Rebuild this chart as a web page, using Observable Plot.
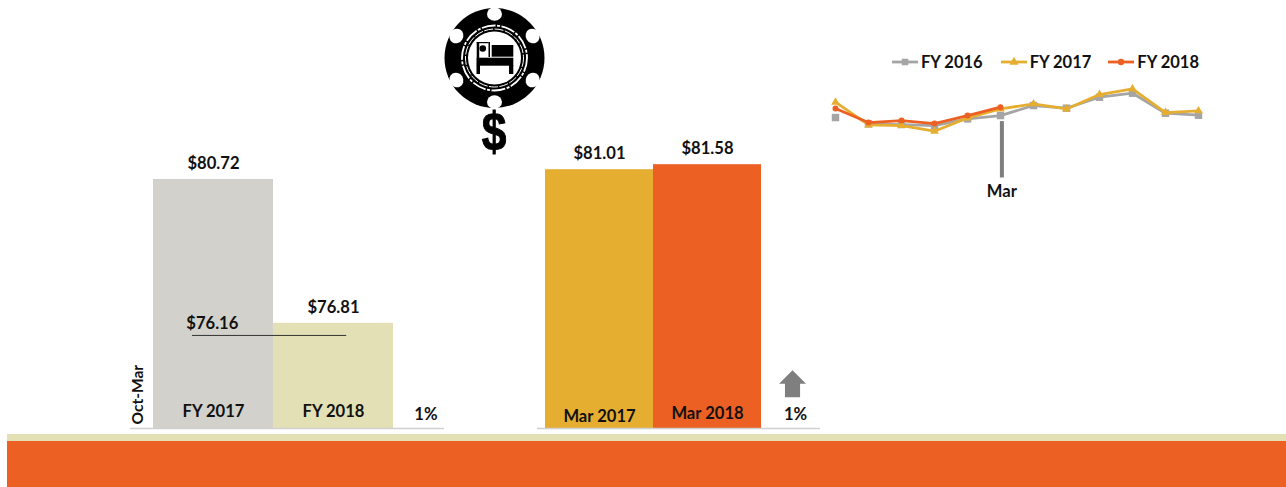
<!DOCTYPE html>
<html>
<head>
<meta charset="utf-8">
<script src="https://cdn.jsdelivr.net/npm/d3@7"></script>
<script src="https://cdn.jsdelivr.net/npm/@observablehq/plot@0.6"></script>
<style>
  html, body { margin: 0; padding: 0; background: #fff; }
  #page { position: relative; width: 1286px; height: 487px; overflow: hidden; font-family: Lato, "Open Sans", sans-serif; color: #111; }
  #page > * { position: absolute; }
  #page svg { overflow: visible; }
  .stripe { left: 7px; right: 0; top: 434px; height: 7px; background: #E3E0B5; }
  .band { left: 7px; right: 0; top: 441px; height: 46px; background: #EC6024; }
  #legend { left: 892px; top: 52px; height: 20px; display: flex; align-items: center; font-weight: 700; font-size: 16.5px; white-space: nowrap; }
  #legend span.item { display: flex; align-items: center; }
  #legend svg { display: block; margin-right: 3px; }
</style>
</head>
<body>
<div id="page">
  <div class="stripe"></div>
  <div class="band"></div>
  <svg id="chip" style="left:440px;top:0" width="110" height="165" viewBox="0 0 110 165"></svg>
  <div id="legend"></div>
</div>
<script>
// Six-month comparison
const periodLabels = ["FY 2017", "FY 2018"];
const periodValues = [80.72, 76.81];
const periodColors = ["#D2D1CC", "#E3E0B5"];
const priorLabel = "$76.16";
const priorLevel = 76.48;
const periodChange = "1%";

// March comparison
const marchLabels = ["Mar 2017", "Mar 2018"];
const marchValues = [81.01, 81.58];
const marchColors = ["#E5AE30", "#EC6024"];
const marchChange = "1%";

// Monthly trend
const months = ["Oct","Nov","Dec","Jan","Feb","Mar","Apr","May","Jun","Jul","Aug","Sep"];
const fy2016 = [78.14,76.02,75.80,75.47,77.69,78.80,82.14,81.25,84.91,86.25,79.58,78.91];
const fy2017 = [83.25,75.69,75.47,73.58,78.02,81.01,82.69,81.01,85.80,87.69,79.80,80.36];
const fy2018 = [81.14,76.47,77.14,76.14,78.80,81.58];
const seriesColors = {"FY 2016": "#A5A5A5", "FY 2017": "#E5AE30", "FY 2018": "#EC6024"};

const font = "Lato, 'Open Sans', sans-serif";
const ink = "#111";
const page = document.getElementById("page");
const place = (el, left, top) => {
  el.style.left = left + "px";
  el.style.top = top + "px";
  page.appendChild(el);
};
const money = v => "$" + v.toFixed(2);
const labelStyle = {fontFamily: font, fontWeight: 700, fontSize: 16.6, fill: ink};

// ---------- left bars ----------
const periodRows = periodLabels.map((label, i) => ({label, value: periodValues[i], color: periodColors[i], a: i, b: i + 1, c: i + 0.5}));
const leftBase = 73.95;
place(Plot.plot({
  width: 314, height: 290, margin: 0,
  x: {domain: [0, 2.425], range: [23, 314], axis: null},
  y: {domain: [leftBase, 81.78], range: [288, 0], axis: null},
  marks: [
    Plot.rect(periodRows, {x1: "a", x2: "b", y1: () => leftBase, y2: "value", fill: "color"}),
    Plot.ruleY([leftBase], {stroke: "#D0D0D0", strokeWidth: 1.5}),
    Plot.ruleY([priorLevel], {x1: 0.325, x2: 1.61, stroke: "#333", strokeWidth: 1}),
    Plot.text(periodRows, {x: "c", y: "value", text: d => money(d.value), dy: -16, ...labelStyle}),
    Plot.text(periodRows, {x: "c", y: () => 74.41, text: "label", ...labelStyle}),
    Plot.text([priorLabel], {x: () => 0.49, y: () => 76.81, text: d => d, ...labelStyle}),
    Plot.text([periodChange], {x: () => 2.27, y: () => 74.33, text: d => d, ...labelStyle}),
    Plot.text(["Oct-Mar"], {x: () => -0.13, y: () => 74.06, text: d => d, rotate: -90, textAnchor: "start", ...labelStyle, fontSize: 15.5})
  ]
}), 130, 140);

// ---------- middle bars ----------
const marchRows = marchLabels.map((label, i) => ({label, value: marchValues[i], color: marchColors[i], a: i, b: i + 1, c: i + 0.5, ly: [52.87, 53.15][i]}));
const midBase = 51.5;
const upArrow = {
  draw(ctx, size) {
    const s = Math.sqrt(size) / 2;
    ctx.moveTo(0, -s);
    ctx.lineTo(s, 0);
    ctx.lineTo(s * 0.56, 0);
    ctx.lineTo(s * 0.56, s);
    ctx.lineTo(-s * 0.56, s);
    ctx.lineTo(-s * 0.56, 0);
    ctx.lineTo(-s, 0);
    ctx.closePath();
  }
};
place(Plot.plot({
  width: 283, height: 290, margin: 0,
  x: {domain: [-0.074, 2.546], range: [0, 283], axis: null},
  y: {domain: [midBase, 51.5 + 288 / 8.77], range: [288, 0], axis: null},
  marks: [
    Plot.rect(marchRows, {x1: "a", x2: "b", y1: () => midBase, y2: "value", fill: "color"}),
    Plot.ruleY([midBase], {stroke: "#D0D0D0", strokeWidth: 1.5}),
    Plot.text(marchRows, {x: "c", y: "value", text: d => money(d.value), dy: -16, ...labelStyle}),
    Plot.text(marchRows, {x: "c", y: "ly", text: "label", ...labelStyle}),
    Plot.dot([marchChange], {x: () => 2.287, y: () => 56.6, r: 15.2, symbol: upArrow, fill: "#7F7F7F", stroke: "none"}),
    Plot.text([marchChange], {x: () => 2.315, y: () => 53.05, text: d => d, ...labelStyle})
  ]
}), 537, 140);

// ---------- trend ----------
const rows = (name, vals) => vals.map((v, i) => ({month: months[i], value: v, name}));
const r16 = rows("FY 2016", fy2016), r17 = rows("FY 2017", fy2017), r18 = rows("FY 2018", fy2018);
const lineOpts = name => ({x: "month", y: "value", stroke: seriesColors[name], strokeWidth: 2.8, curve: "linear"});
const dotOpts = (name, symbol, r) => ({x: "month", y: "value", fill: seriesColors[name], stroke: "none", symbol, r});
place(Plot.plot({
  width: 400, height: 125, margin: 0,
  x: {type: "point", domain: months, range: [13.3, 380.7], padding: 0, axis: null},
  y: {domain: [50.5, 90.48], range: [120, 0], axis: null},
  marks: [
    Plot.line(r16.slice(1), lineOpts("FY 2016")),
    Plot.dot(r16, dotOpts("FY 2016", "square", 4.2)),
    Plot.line(r17, lineOpts("FY 2017")),
    Plot.dot(r17, dotOpts("FY 2017", "triangle", 3.2)),
    Plot.line(r18, lineOpts("FY 2018")),
    Plot.dot(r18, dotOpts("FY 2018", "circle", 3)),
    Plot.ruleX(["Mar"], {y1: 76.8, y2: 58, stroke: "#7F7F7F", strokeWidth: 4, dx: 1.4}),
    Plot.text(["Mar"], {x: d => d, y: () => 53.5, text: d => d, dx: 1.4, ...labelStyle})
  ]
}), 820, 80);

// ---------- legend ----------
const legend = d3.select("#legend");
const symbols = {"FY 2016": d3.symbolSquare, "FY 2017": d3.symbolTriangle, "FY 2018": d3.symbolCircle};
const sizes = {"FY 2016": 42, "FY 2017": 36, "FY 2018": 32};
const gaps = {"FY 2016": 18, "FY 2017": 17, "FY 2018": 0};
Object.keys(seriesColors).forEach(name => {
  const item = legend.append("span").attr("class", "item").style("margin-right", gaps[name] + "px");
  const s = item.append("svg").attr("width", 26).attr("height", 12);
  s.append("line").attr("x1", 0).attr("x2", 26).attr("y1", 6).attr("y2", 6)
    .attr("stroke", seriesColors[name]).attr("stroke-width", 2.8);
  s.append("path").attr("transform", "translate(13,6)")
    .attr("d", d3.symbol(symbols[name], sizes[name])()).attr("fill", seriesColors[name]);
  item.append("span").text(name);
});

// ---------- chip icon ----------
const chip = d3.select("#chip");
const cx = 54.5, cy = 58;
chip.append("circle").attr("cx", cx).attr("cy", cy).attr("r", 50).attr("fill", "#000");
d3.range(6).forEach(i => {
  const a = i * Math.PI / 3;
  chip.append("ellipse")
    .attr("transform", `translate(${cx + 44 * Math.sin(a)},${cy - 44 * Math.cos(a)}) rotate(${i * 60})`)
    .attr("rx", 7.5).attr("ry", 6.8).attr("fill", "#fff");
});
chip.append("circle").attr("cx", cx).attr("cy", cy).attr("r", 32.5).attr("fill", "none")
  .attr("stroke", "#fff").attr("stroke-width", 1.8).attr("stroke-dasharray", "14 1.5 3 1.5");
chip.append("circle").attr("cx", cx).attr("cy", cy).attr("r", 29).attr("fill", "none")
  .attr("stroke", "#fff").attr("stroke-width", 1).attr("stroke-dasharray", "9 1.5");
chip.append("circle").attr("cx", cx).attr("cy", cy).attr("r", 26.5).attr("fill", "#fff");
[[36.7,42,2.5,32],[36.7,42,12,1.2],[48.5,42,1.5,15],[51.7,45,21.6,11.7],[36.7,57.7,36.6,8],[36.7,65,3.3,9],[69,65,4.3,9]]
  .forEach(([x, y, width, height]) => {
    chip.append("rect").attr("x", x).attr("y", y).attr("width", width).attr("height", height).attr("fill", "#000");
  });
chip.append("circle").attr("cx", 42.8).attr("cy", 48.5).attr("r", 3.3).attr("fill", "#000");
chip.append("text").attr("text-anchor", "middle").attr("transform", "translate(54,150) scale(0.82,1)")
  .attr("font-family", "'Liberation Sans', sans-serif").attr("font-weight", 700)
  .attr("font-size", 54).attr("fill", "#000").attr("stroke", "#000").attr("stroke-width", 1).text("$");
</script>
</body>
</html>
